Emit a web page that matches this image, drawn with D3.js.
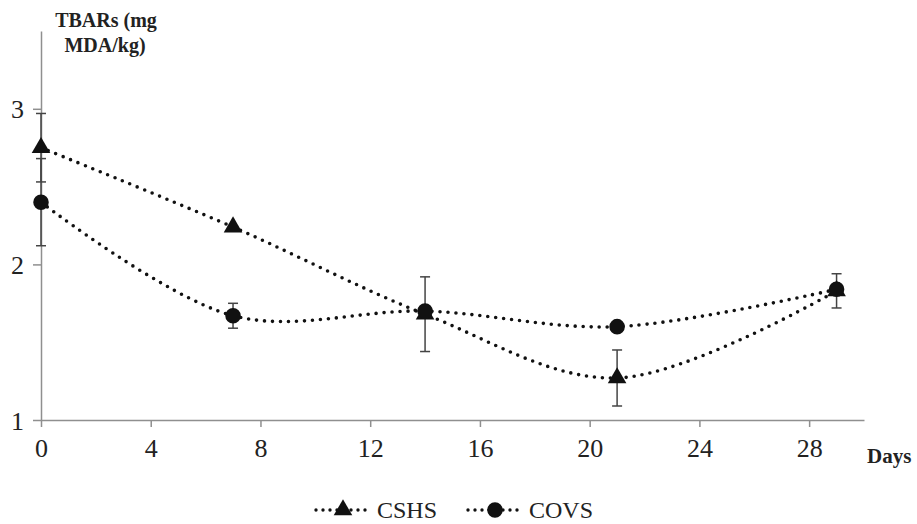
<!DOCTYPE html>
<meta charset="utf-8">
<script src="https://d3js.org/d3.v7.min.js"></script>
<style>
  body { margin: 0; background: #fff; }
  svg text { font-family: "Liberation Serif", "Times New Roman", serif; fill: #222; }
</style>
<div id="chart"></div>
<script>

// Data
var days = [0, 7, 14, 21, 29];
var cshs = [2.75, 2.24, 1.68, 1.27, 1.83];
var cshsErr = [0.22, 0, 0.24, 0.18, 0.11];
var covs = [2.40, 1.67, 1.70, 1.60, 1.84];
var covsErr = [0.28, 0.08, 0, 0, 0];
var xTicks = [0, 4, 8, 12, 16, 20, 24, 28];
var yTicks = [1, 2, 3];

var W = 917, H = 524;
var svg = d3.select("#chart").append("svg")
    .attr("width", W).attr("height", H);

// Scales
var x = d3.scaleLinear().domain([0, 30]).range([41, 864]);
var y = d3.scaleLinear().domain([1, 3.5]).range([420, 31]);

// Axes
var xAxis = svg.append("g")
    .attr("transform", "translate(0," + y(1) + ")")
    .call(d3.axisBottom(x).tickValues(xTicks).tickSize(7).tickSizeOuter(0).tickFormat(d3.format("d")));
xAxis.selectAll("text")
    .attr("y", 0).attr("dy", null)
    .attr("transform", "translate(0,37)")
    .style("font-size", "26px");

var yAxis = svg.append("g")
    .attr("transform", "translate(" + x(0) + ",0)")
    .call(d3.axisLeft(y).tickValues(yTicks).tickSize(8).tickSizeOuter(0).tickFormat(d3.format("d")));
yAxis.selectAll("text")
    .attr("x", -17).attr("dy", "0.35em")
    .style("font-size", "26px");

svg.selectAll(".domain, .tick line").attr("stroke", "#8f8f8f").attr("stroke-width", 1.5);

// Axis titles
var yt = svg.append("text").attr("text-anchor", "middle")
    .style("font-size", "20px").style("font-weight", "bold");
yt.append("tspan").attr("x", 106).attr("y", 27).text("TBARs (mg");
yt.append("tspan").attr("x", 105).attr("y", 52).text("MDA/kg)");

svg.append("text").attr("x", 867).attr("y", 463)
    .style("font-size", "21px").style("font-weight", "bold").text("Days");

// Lines
var line = d3.line()
    .x(function(d) { return x(d[0]); })
    .y(function(d) { return y(d[1]); })
    .curve(d3.curveCatmullRom.alpha(0.5));

var series = [
  { name: "CSHS", vals: cshs, err: cshsErr, shape: d3.symbolTriangle },
  { name: "COVS", vals: covs, err: covsErr, shape: d3.symbolCircle }
];

series.forEach(function(s) {
  var pts = days.map(function(d, i) { return [d, s.vals[i]]; });
  svg.append("path")
      .attr("d", line(pts))
      .attr("fill", "none")
      .attr("stroke", "#111")
      .attr("stroke-width", 3.6)
      .attr("stroke-linecap", "round")
      .attr("stroke-dasharray", "0 8");
});

// Error bars
series.forEach(function(s) {
  var g = svg.append("g").attr("stroke", "#444").attr("stroke-width", 1.5);
  days.forEach(function(d, i) {
    if (!s.err[i]) return;
    var cx = x(d), y1 = y(s.vals[i] + s.err[i]), y2 = y(s.vals[i] - s.err[i]);
    g.append("line").attr("x1", cx).attr("x2", cx).attr("y1", y1).attr("y2", y2);
    g.append("line").attr("x1", cx - 5).attr("x2", cx + 5).attr("y1", y1).attr("y2", y1);
    g.append("line").attr("x1", cx - 5).attr("x2", cx + 5).attr("y1", y2).attr("y2", y2);
  });
});

// Markers
series.forEach(function(s) {
  var sym = d3.symbol().type(s.shape).size(s.name === "CSHS" ? 150 : 190);
  svg.append("g").selectAll("path")
    .data(days)
    .enter().append("path")
      .attr("d", sym)
      .attr("transform", function(d, i) { return "translate(" + x(d) + "," + y(s.vals[i]) + ")"; })
      .attr("fill", "#111");
});

// Legend
var legend = svg.append("g");
var items = [{ name: "CSHS", shape: d3.symbolTriangle, x0: 316 }, { name: "COVS", shape: d3.symbolCircle, x0: 468 }];
items.forEach(function(it) {
  var ly = 510;
  legend.append("line")
      .attr("x1", it.x0).attr("x2", it.x0 + 54)
      .attr("y1", ly).attr("y2", ly)
      .attr("stroke", "#111").attr("stroke-width", 3.4)
      .attr("stroke-linecap", "round").attr("stroke-dasharray", "0 7");
  legend.append("path")
      .attr("d", d3.symbol().type(it.shape).size(it.name === "CSHS" ? 150 : 190))
      .attr("transform", "translate(" + (it.x0 + 27) + "," + ly + ")")
      .attr("fill", "#111");
  legend.append("text")
      .attr("x", it.x0 + 61).attr("y", ly + 8)
      .style("font-size", "24px").text(it.name);
});

</script>
